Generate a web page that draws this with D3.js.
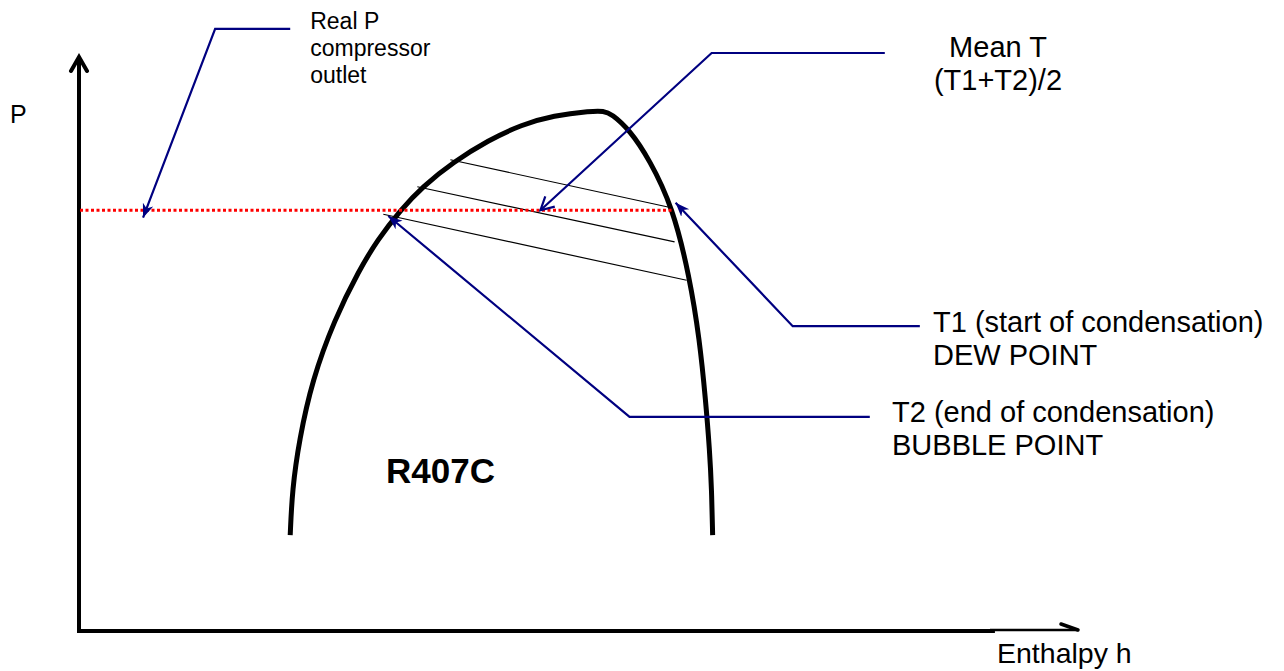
<!DOCTYPE html>
<html>
<head>
<meta charset="utf-8">
<script src="https://cdn.jsdelivr.net/npm/d3@7"></script>
<style>
  body { margin: 0; background: #fff; }
  text { font-family: "Liberation Sans", Arial, sans-serif; fill: #000; }
</style>
</head>
<body>
<div id="container"></div>
<script>
const width = 1284;
const height = 671;

// saturation dome of R407C (enthalpy h, pressure P, arbitrary units 0-100)
const domeH = [21.1, 21.3, 22.0, 23.3, 25.5, 28.0, 29.8, 32.1, 34.3, 37.4, 40.9, 44.2, 47.4, 51.2, 52.4,
               53.2, 55.0, 57.0, 59.3, 61.0, 62.0, 62.6, 63.0, 63.2, 63.3];
const domeP = [16.7, 24.6, 33.3, 43.7, 54.2, 62.9, 68.1, 73.3, 77.4, 81.7, 85.5, 88.2, 89.8, 90.6, 90.6,
               90.1, 87.3, 82.1, 73.9, 61.7, 50.7, 40.2, 31.5, 24.6, 16.7];

// isotherms across the two-phase region: [h start, P start, h end, P end]
const tieLines = [
  [37.1, 82.1, 59.3, 73.7],
  [33.8, 77.4, 59.5, 67.8],
  [30.4, 72.6, 60.7, 61.1]
];

// real compressor outlet pressure
const realP = 73.3;
const realPEnd = 59.3;

// callouts: label corner, elbow, arrow tip
const callouts = [
  { name: "realP", h: [21.1, 13.6, 6.4], p: [104.9, 104.9, 72.0], head: "fill" },
  { name: "meanT", h: [80.5, 63.2, 46.1], p: [100.7, 100.7, 73.3], head: "open" },
  { name: "t1", h: [84.0, 71.3, 59.6], p: [53.1, 53.1, 74.6], head: "fill" },
  { name: "t2", h: [79.0, 55.0, 30.9], p: [37.3, 37.3, 72.3], head: "fill" }
];

const svg = d3.select("#container")
              .append("svg")
              .attr("width", width)
              .attr("height", height);

const x = d3.scaleLinear().domain([0, 100]).range([79, 1080]);
const y = d3.scaleLinear().domain([0, 100]).range([631, 57]);

const defs = svg.append("defs");
defs.append("marker")
    .attr("id", "head-fill")
    .attr("markerUnits", "userSpaceOnUse")
    .attr("viewBox", "-14 -7 16 14")
    .attr("markerWidth", 16)
    .attr("markerHeight", 14)
    .attr("refX", 0)
    .attr("refY", 0)
    .attr("orient", "auto")
    .append("path")
    .attr("d", "M-14,-5.5 L0,0 L-14,5.5 L-10,0 Z")
    .style("fill", "#000080");
defs.append("marker")
    .attr("id", "head-open")
    .attr("markerUnits", "userSpaceOnUse")
    .attr("viewBox", "-16 -10 19 20")
    .attr("markerWidth", 19)
    .attr("markerHeight", 20)
    .attr("refX", 0)
    .attr("refY", 0)
    .attr("orient", "auto")
    .append("path")
    .attr("d", "M-13,-7 L0,0 L-13,7")
    .style("fill", "none")
    .style("stroke", "#000080")
    .style("stroke-width", 2.2);
defs.append("marker")
    .attr("id", "axis-head")
    .attr("markerUnits", "userSpaceOnUse")
    .attr("viewBox", "-18 -12 22 24")
    .attr("markerWidth", 22)
    .attr("markerHeight", 24)
    .attr("refX", 0)
    .attr("refY", 0)
    .attr("orient", "auto")
    .append("path")
    .attr("d", "M-14,-8 L0,0 L-14,8")
    .style("fill", "none")
    .style("stroke", "#000")
    .style("stroke-width", 4)
    .style("stroke-linecap", "round");
defs.append("marker")
    .attr("id", "axis-barb")
    .attr("markerUnits", "userSpaceOnUse")
    .attr("viewBox", "-20 -10 24 14")
    .attr("markerWidth", 24)
    .attr("markerHeight", 14)
    .attr("refX", 0)
    .attr("refY", 0)
    .attr("orient", "auto")
    .append("path")
    .attr("d", "M-17,-6 L0,0")
    .style("fill", "none")
    .style("stroke", "#000")
    .style("stroke-width", 3.5)
    .style("stroke-linecap", "round");

// axes
svg.append("line")
   .attr("x1", x(0)).attr("y1", y(0) + 2)
   .attr("x2", x(0)).attr("y2", y(100))
   .style("stroke", "#000")
   .style("stroke-width", 4)
   .attr("marker-end", "url(#axis-head)");
svg.append("line")
   .attr("x1", x(0) - 2).attr("y1", y(0))
   .attr("x2", x(91.5)).attr("y2", y(0))
   .style("stroke", "#000")
   .style("stroke-width", 4);
svg.append("line")
   .attr("x1", x(91)).attr("y1", y(0) - 1)
   .attr("x2", x(99.8)).attr("y2", y(0) - 1)
   .style("stroke", "#000")
   .style("stroke-width", 2.5)
   .attr("marker-end", "url(#axis-barb)");

// dome
const dome = d3.line()
               .x(d => x(d[0]))
               .y(d => y(d[1]))
               .curve(d3.curveBasis);
svg.append("path")
   .datum(d3.zip(domeH, domeP))
   .attr("d", dome)
   .style("fill", "none")
   .style("stroke", "#000")
   .style("stroke-width", 5);

svg.append("g")
   .selectAll("line")
   .data(tieLines)
   .enter()
   .append("line")
   .attr("x1", d => x(d[0]))
   .attr("y1", d => y(d[1]))
   .attr("x2", d => x(d[2]))
   .attr("y2", d => y(d[3]))
   .style("stroke", "#000")
   .style("stroke-width", 1.2);

svg.append("line")
   .attr("x1", x(0.1)).attr("y1", y(realP))
   .attr("x2", x(realPEnd)).attr("y2", y(realP))
   .style("stroke", "#ff0000")
   .style("stroke-width", 3)
   .style("stroke-dasharray", "3,2.5");

// callouts
const callLine = d3.line()
                   .x(d => x(d[0]))
                   .y(d => y(d[1]));
svg.append("g")
   .selectAll("path")
   .data(callouts)
   .enter()
   .append("path")
   .attr("d", d => callLine(d3.zip(d.h, d.p)))
   .style("fill", "none")
   .style("stroke", "#000080")
   .style("stroke-width", 2.2)
   .attr("marker-end", d => "url(#head-" + d.head + ")");

// labels
const addText = (tx, ty, str, size, anchor, weight) => {
  svg.append("text")
     .attr("x", tx)
     .attr("y", ty)
     .attr("text-anchor", anchor || "start")
     .style("font-size", size + "px")
     .style("font-weight", weight || "normal")
     .text(str);
};

addText(10, 123, "P", 25);
addText(x(23.1), 29, "Real P", 23);
addText(x(23.1), 56, "compressor", 23);
addText(x(23.1), 83, "outlet", 23);
addText(998, 57, "Mean T", 29, "middle");
addText(998, 90, "(T1+T2)/2", 29, "middle");
addText(933, 332, "T1 (start of condensation)", 29);
addText(933, 365, "DEW POINT", 29);
addText(892, 422, "T2 (end of condensation)", 29);
addText(892, 455, "BUBBLE POINT", 29);
addText(386, 483, "R407C", 35, "start", "bold");
addText(997, 663, "Enthalpy h", 28.5);
</script>
</body>
</html>
